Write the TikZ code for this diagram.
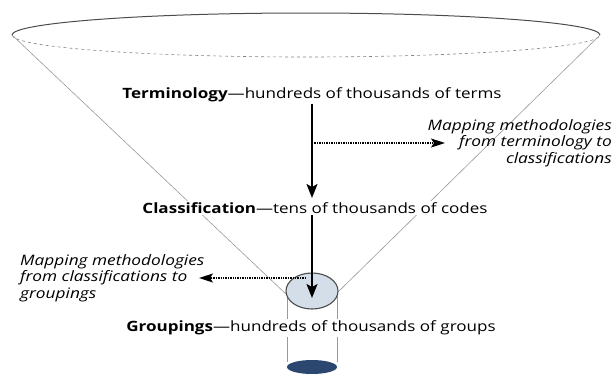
\documentclass[tikz,border=0pt]{standalone}
\usepackage{fontspec}
\setmainfont[FakeStretch=1.2]{Open Sans}
\usetikzlibrary{arrows.meta,shapes.geometric}

\definecolor{rimline}{gray}{0.3}
\definecolor{coneline}{gray}{0.6}
\definecolor{neckfill}{HTML}{D3DEE8}
\definecolor{basefill}{HTML}{2B4770}

\begin{document}
\begin{tikzpicture}[x=1pt,y=-1pt,font=\fontsize{14.2}{16}\selectfont,
  level/.style={fill=white,inner sep=1.5pt},
  mapnote/.style={inner sep=0pt,font=\fontsize{14.4}{16.5}\selectfont\itshape},
  flow/.style={line width=1.4pt,-{Stealth[length=14pt,width=11pt,inset=3pt]}},
  maplink/.style={densely dotted,line width=1.4pt,-{Stealth[length=14pt,width=9pt,inset=3pt]}},
  cone/.style={coneline,line width=0.6pt}]

\useasboundingbox (0,0) rectangle (613,373);

% ---- the funnel ----
\coordinate (rimL) at (12,35);
\coordinate (rimR) at (600,35);
\coordinate (neckL) at (287,295);
\coordinate (neckR) at (337,293);

\draw[rimline,line width=1pt] (rimL) arc[start angle=180,end angle=360,x radius=294,y radius=22];
\draw[rimline!70,dashed,line width=0.6pt] (rimL) arc[start angle=180,end angle=0,x radius=294,y radius=22];
\draw[cone] (rimL) -- (neckL);
\draw[cone] (rimR) -- (neckR);

% ---- spout below the neck ----
\draw[cone] (287,296) -- (287,362);
\draw[cone] (337,296) -- (337,362);
\fill[basefill] (312,367) ellipse [x radius=25,y radius=7];

\node[draw=rimline,line width=1.1pt,fill=neckfill,ellipse,minimum width=52pt,minimum height=36pt,inner sep=0pt] (neck) at (312,291) {};

% ---- the three levels ----
\node[level] (term) at (312,95) {\textbf{Terminology}---hundreds of thousands of terms};
\node[level] (class) at (315,208) {\textbf{Classification}---tens of thousands of codes};
\node[level] (group) at (311,328) {\textbf{Groupings}---hundreds of thousands of groups};

% ---- mapping notes ----
\node[mapnote,align=right,anchor=north east] (mapA) at (612,119) {Mapping methodologies\\from terminology to\\classifications};
\node[mapnote,align=left,anchor=north west] (mapB) at (20,254) {Mapping methodologies\\from classifications to\\groupings};

\draw[flow] (term.south -| 312,0) -- (312,198);
\draw[flow] (class.south -| 312,0) -- ([yshift=-7pt]neck.center);

\coordinate (mA) at (312,143);
\coordinate (mAe) at (445,143);
\coordinate (mB) at (306,278);
\coordinate (mBe) at (199,278);
\draw[maplink] (mA) -- (mAe);
\draw[maplink] (mB) -- (mBe);

\end{tikzpicture}
\end{document}
